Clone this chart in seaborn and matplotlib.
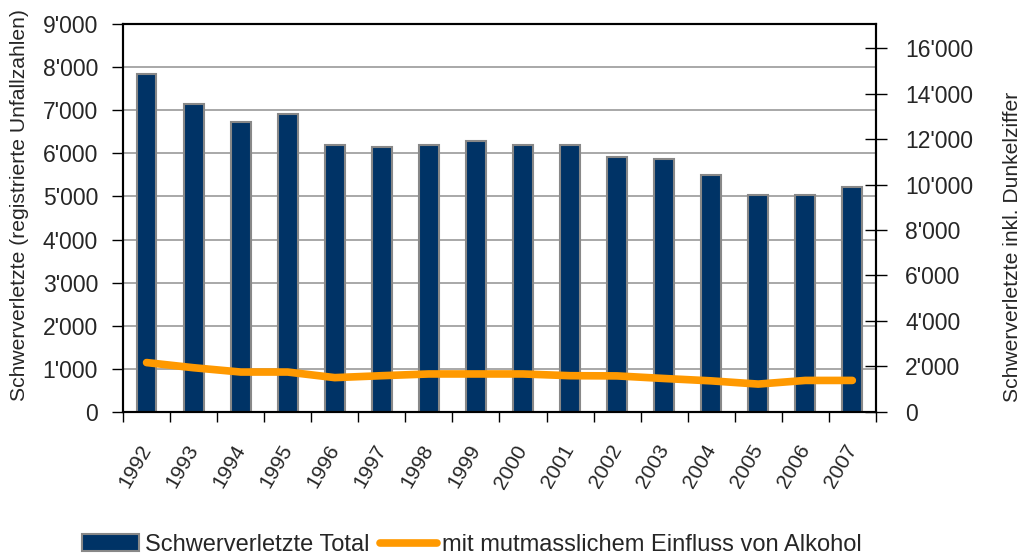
import numpy as np
import pandas as pd
import seaborn as sns
import matplotlib.pyplot as plt
import matplotlib.transforms as mtransforms
from matplotlib.patches import Patch
from matplotlib.lines import Line2D
from matplotlib.ticker import FuncFormatter, FixedLocator

years = [str(y) for y in range(1992, 2008)]
total = [7850, 7150, 6740, 6925, 6190, 6150, 6190, 6280, 6190, 6190, 5920, 5865, 5505, 5040, 5040, 5220]
alkohol = [1140, 1020, 920, 920, 790, 835, 875, 875, 875, 835, 830, 770, 715, 640, 725, 725]

NAVY = "#003366"
ORANGE = "#FF9900"
FONT = ["Liberation Sans", "DejaVu Sans"]

sns.set_theme(style="white")
plt.rcParams["font.family"] = FONT

df = pd.DataFrame({"Jahr": years, "Total": total, "Alkohol": alkohol})
df["pos"] = np.arange(len(df))

fig = plt.figure(figsize=(10.22, 5.54), dpi=100)
ax = fig.add_axes([0.1204, 0.257, 0.7366, 0.699])

sns.barplot(data=df, x="Jahr", y="Total", color=NAVY, saturation=1,
            width=0.42, edgecolor="#888888", linewidth=1.5, ax=ax, zorder=2)
sns.lineplot(data=df, x="pos", y="Alkohol", color=ORANGE, linewidth=5.5,
             solid_capstyle="round", ax=ax, zorder=3)

fmt = FuncFormatter(lambda v, p: f"{int(v):,}".replace(",", "'"))

ax.set_xlim(-0.5, len(years) - 0.5)
ax.set_ylim(0, 9000)
ax.set_yticks(np.arange(0, 9001, 1000))
ax.yaxis.set_major_formatter(fmt)
ax.grid(axis="y", color="#999999", linewidth=1.2, zorder=0)
ax.set_axisbelow(True)
ax.set_xticks(range(len(years)))
ax.set_xticklabels(years, rotation=60, ha="right", va="center", rotation_mode="anchor")
shift = mtransforms.ScaledTranslation(-6 / 100, 0, fig.dpi_scale_trans)
for lab in ax.get_xticklabels():
    lab.set_transform(lab.get_transform() + shift)
ax.xaxis.set_minor_locator(FixedLocator(np.arange(-0.5, len(years), 1)))
ax.tick_params(axis="x", which="major", length=0, pad=25, labelsize=15)
ax.tick_params(axis="x", which="minor", length=7, width=1, color="black", direction="out", bottom=True)
ax.tick_params(axis="y", length=8, width=1, color="black", direction="out", left=True, pad=10, labelsize=16.5)
ax.set_xlabel("")
ax.set_ylabel("Schwerverletzte (registrierte Unfallzahlen)", fontsize=15.2)
ax.yaxis.set_label_coords(-0.125, 0.533)
for s in ax.spines.values():
    s.set_color("black")
    s.set_linewidth(1.5)

ax2 = ax.twinx()
ax2.set_ylim(0, 17060)
ax2.set_yticks(np.arange(0, 16001, 2000))
ax2.yaxis.set_major_formatter(fmt)
ax2.tick_params(axis="y", length=16, width=1, color="black", direction="inout", right=True, pad=13, labelsize=16.5)
ax2.set_ylabel("Schwerverletzte inkl. Dunkelziffer", fontsize=15.2)
ax2.yaxis.set_label_coords(1.169, 0.425)
ax2.grid(False)
for s in ax2.spines.values():
    s.set_color("black")
    s.set_linewidth(1.5)

handles = [Patch(facecolor=NAVY, edgecolor="#888888", linewidth=1.5),
           Line2D([0], [0], color=ORANGE, linewidth=5.5, solid_capstyle="round")]
fig.legend(handles, ["Schwerverletzte Total", "mit mutmasslichem Einfluss von Alkohol"],
           loc="lower center", bbox_to_anchor=(0.462, -0.042), ncol=2, frameon=False,
           fontsize=17, handlelength=2.4, handletextpad=0.25, columnspacing=0.45)

fig.savefig("out.png", dpi=100)
